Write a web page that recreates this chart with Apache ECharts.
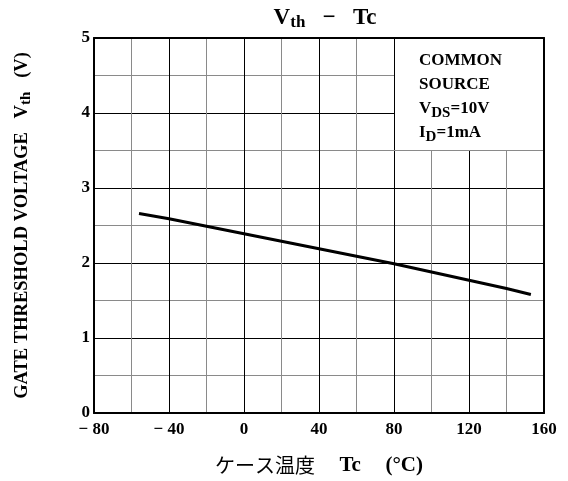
<!DOCTYPE html>
<html><head><meta charset="utf-8">
<script src="https://cdn.jsdelivr.net/npm/echarts@6/dist/echarts.min.js"></script>
<style>html,body{margin:0;padding:0;background:#fff}#c{width:568px;height:481px}</style>
</head><body><div id="c"></div>
<script>
const tempC = [-56, -40, -20, 0, 20, 40, 60, 80, 100, 120, 140, 153];
const vth = [2.66, 2.59, 2.49, 2.39, 2.29, 2.19, 2.09, 1.99, 1.88, 1.77, 1.66, 1.58];
const xTickLabels = [-80, -40, 0, 40, 80, 120, 160];
const yTickLabels = [0, 1, 2, 3, 4, 5];
const conditionLines = ['COMMON', 'SOURCE', 'V{s|DS}{n|=10V}', 'I{s|D}{n|=1mA}'];
const boxRange = [[80, 3.5], [160, 5]];

const FONT = 'Liberation Serif';
const chart = echarts.init(document.getElementById('c'));
const borderAxis = { show: true, z: 10, axisLine: { show: true, onZero: false, lineStyle: { color: '#000', width: 2 } },
  axisTick: { show: false }, axisLabel: { show: false }, splitLine: { show: false } };
chart.setOption({
  animation: false,
  backgroundColor: '#fff',
  title: {
    text: 'V{s|th}   −   Tc', left: 320, textAlign: 'center', top: 0,
    textStyle: { fontFamily: FONT, fontSize: 23, fontWeight: 'bold', color: '#000',
      rich: { s: { fontFamily: FONT, fontSize: 17, fontWeight: 'bold', padding: [9, 0, 0, 0], color: '#000' } } }
  },
  grid: { left: 94, right: 24, top: 38, bottom: 68 },
  xAxis: [{
    type: 'value', min: -80, max: 160, interval: 20,
    name: 'ケース温度　 {b|Tc}　 {b|(°C)}', nameLocation: 'middle', nameGap: 42,
    nameTextStyle: { fontFamily: '"Noto Sans CJK JP"', fontSize: 20, color: '#000',
      rich: { b: { fontFamily: FONT, fontSize: 21, fontWeight: 'bold', color: '#000' } } },
    axisLine: { show: true, onZero: false, lineStyle: { color: '#000', width: 2 } },
    axisTick: { show: false },
    axisLabel: {
      margin: 8, fontFamily: FONT, fontSize: 17, fontWeight: 'bold', color: '#000',
      formatter: v => xTickLabels.includes(v) ? (v < 0 ? '− ' + Math.abs(v) : String(v)) : ''
    },
    splitLine: { show: true, lineStyle: { color: ['#000', '#8a8a8a'], width: 1 } }
  }, Object.assign({ type: 'value', position: 'top', min: -80, max: 160 }, borderAxis)],
  yAxis: [{
    type: 'value', min: 0, max: 5, interval: 0.5,
    name: 'GATE THRESHOLD VOLTAGE   V{s|th}   (V)', nameLocation: 'middle', nameGap: 60, nameRotate: 90,
    nameTextStyle: { fontFamily: FONT, fontSize: 18.5, fontWeight: 'bold', color: '#000',
      rich: { s: { fontFamily: FONT, fontSize: 15, fontWeight: 'bold', padding: [8, 0, 0, 0] } } },
    axisLine: { show: true, onZero: false, lineStyle: { color: '#000', width: 2 } },
    axisTick: { show: false },
    axisLabel: {
      margin: 4, fontFamily: FONT, fontSize: 17, fontWeight: 'bold', color: '#000',
      formatter: v => yTickLabels.includes(v) ? String(v) : ''
    },
    splitLine: { show: true, lineStyle: { color: ['#000', '#8a8a8a'], width: 1 } }
  }, Object.assign({ type: 'value', position: 'right', min: 0, max: 5 }, borderAxis)],
  series: [{
    type: 'line', data: tempC.map((t, i) => [t, vth[i]]),
    showSymbol: false, smooth: false,
    lineStyle: { color: '#000', width: 3 },
    markArea: {
      silent: true,
      itemStyle: { color: '#fff', borderWidth: 0 },
      label: {
        show: true, position: 'insideTopLeft', offset: [20, 6],
        formatter: conditionLines.join('\n'),
        fontFamily: FONT, fontSize: 17, fontWeight: 'bold', color: '#000', lineHeight: 24,
        rich: {
          s: { fontFamily: FONT, fontSize: 15, fontWeight: 'bold', padding: [8, 0, 0, 0], color: '#000' },
          n: { fontFamily: FONT, fontSize: 17, fontWeight: 'bold', color: '#000' }
        }
      },
      data: [[{ coord: boxRange[0] }, { coord: boxRange[1] }]]
    },
    markLine: {
      silent: true, symbol: 'none', label: { show: false },
      data: [
        [{ coord: [boxRange[0][0], boxRange[0][1]], lineStyle: { color: '#000', width: 1, type: 'solid' } },
         { coord: [boxRange[0][0], boxRange[1][1]] }],
        [{ coord: [boxRange[0][0], boxRange[0][1]], lineStyle: { color: '#8a8a8a', width: 1, type: 'solid' } },
         { coord: [boxRange[1][0], boxRange[0][1]] }]
      ]
    }
  }]
});
</script></body></html>
